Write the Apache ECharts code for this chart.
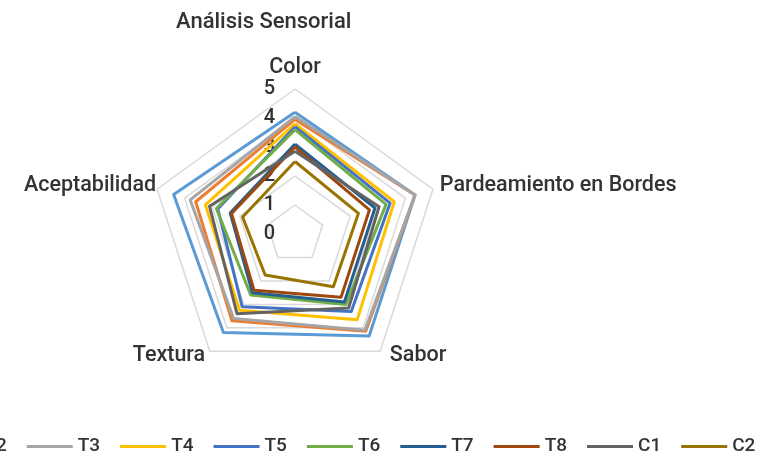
<!DOCTYPE html>
<html>
<head>
<meta charset="utf-8">
<script src="https://cdn.jsdelivr.net/npm/echarts@6/dist/echarts.min.js"></script>
<style>html,body{margin:0;padding:0;background:#fff;}#c{width:766px;height:459px;}</style>
</head>
<body>
<div id="c"></div>
<script>
const indicators = ['Color', 'Pardeamiento en Bordes', 'Sabor', 'Textura', 'Aceptabilidad'];
const seriesNames = ['T1', 'T2', 'T3', 'T4', 'T5', 'T6', 'T7', 'T8', 'C1', 'C2'];
const T1 = [4.2, 4.35, 4.35, 4.2, 4.4];
const T2 = [3.95, 4.35, 4.15, 3.7, 3.6];
const T3 = [4.05, 4.35, 4.1, 3.6, 3.8];
const T4 = [3.8, 3.6, 3.65, 3.25, 3.25];
const T5 = [3.7, 3.45, 3.3, 3.1, 2.8];
const T6 = [3.6, 3.3, 3.0, 2.6, 2.85];
const T7 = [3.1, 2.9, 2.9, 2.5, 2.35];
const T8 = [3.0, 2.7, 2.7, 2.4, 2.3];
const C1 = [2.85, 3.05, 3.15, 3.4, 3.1];
const C2 = [2.5, 2.3, 2.25, 1.75, 1.9];
const values = [T1, T2, T3, T4, T5, T6, T7, T8, C1, C2];
const colors = ['#5B9BD5', '#ED7D31', '#A5A5A5', '#FFC000', '#4472C4', '#70AD47', '#255E91', '#9E480E', '#636363', '#997300'];
const textColor = '#333333';

// ECharts radar runs counter-clockwise; Excel runs clockwise -> display order
const order = [0, 4, 3, 2, 1];
const nameStyleKey = ['c', 'p', 's', 't', 'a'];

const chart = echarts.init(document.getElementById('c'), null, {renderer: 'canvas'});
chart.setOption({
  animation: false,
  backgroundColor: '#fff',
  color: colors,
  title: {
    text: 'Análisis Sensorial',
    left: 171, top: 6,
    textStyle: {fontFamily: 'Roboto', fontSize: 22, fontWeight: 500, color: textColor}
  },
  legend: {
    data: seriesNames,
    left: -165, top: 432, width: 1200,
    icon: 'rect', itemWidth: 46, itemHeight: 3, itemGap: 20,
    textStyle: {fontFamily: 'Roboto', fontSize: 19, fontWeight: 500, color: textColor}
  },
  radar: {
    center: [295, 234],
    radius: 145,
    startAngle: 90,
    splitNumber: 5,
    shape: 'polygon',
    indicator: order.map((k, i) => i === 0
      ? {name: indicators[k], min: 0, max: 5, axisLabel: {show: true}}
      : {name: indicators[k], min: 0, max: 5}),
    axisName: {
      fontFamily: 'Roboto', fontSize: 21.5, fontWeight: 500, color: textColor,
      formatter: function (name) {
        return '{' + nameStyleKey[indicators.indexOf(name)] + '|' + name + '}';
      },
      rich: {
        c: {fontFamily: 'Roboto', fontSize: 21.5, fontWeight: 500, color: textColor, padding: [0, 0, 2, 0]},
        p: {fontFamily: 'Roboto', fontSize: 21.5, fontWeight: 500, color: textColor, padding: [0, 0, 6, 6]},
        s: {fontFamily: 'Roboto', fontSize: 21.5, fontWeight: 500, color: textColor, padding: [8, 0, 0, 9]},
        t: {fontFamily: 'Roboto', fontSize: 21.5, fontWeight: 500, color: textColor, padding: [8, 4, 0, 0]},
        a: {fontFamily: 'Roboto', fontSize: 21.5, fontWeight: 500, color: textColor, padding: [0, 0, 6, 0]}
      }
    },
    nameGap: 1,
    axisLine: {show: false},
    axisTick: {show: false},
    axisLabel: {show: false, fontFamily: 'Roboto', fontSize: 20, fontWeight: 500, color: textColor, margin: 20},
    splitLine: {lineStyle: {color: '#D9D9D9', width: 1.5}},
    splitArea: {show: false}
  },
  series: [{
    type: 'radar',
    symbol: 'none',
    data: seriesNames.map((n, i) => ({
      name: n, value: order.map(k => values[i][k]),
      lineStyle: {color: colors[i], width: 3},
      itemStyle: {color: colors[i]}
    }))
  }]
});
</script>
</body>
</html>
